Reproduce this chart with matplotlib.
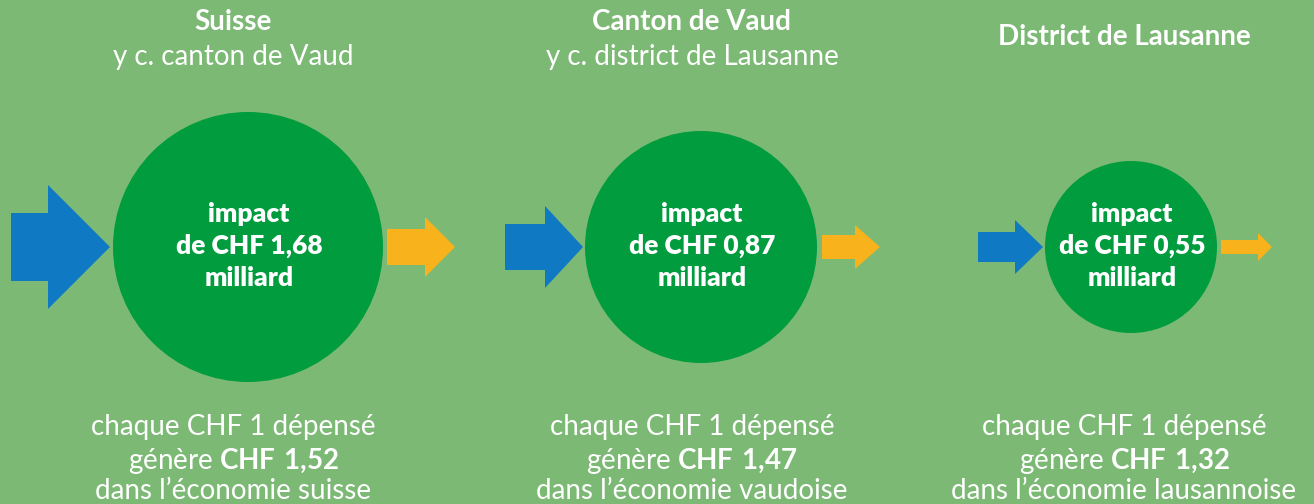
import matplotlib
matplotlib.use("Agg")
import matplotlib.pyplot as plt
from matplotlib.patches import Circle, Polygon

plt.rcParams['font.family'] = ['Lato', 'DejaVu Sans']
plt.rcParams['mathtext.fontset'] = 'custom'
plt.rcParams['mathtext.rm'] = 'Lato'
plt.rcParams['mathtext.bf'] = 'Lato:bold'

# data
regions = ['Suisse', 'Canton de Vaud', 'District de Lausanne']
subtitles = ['y c. canton de Vaud', 'y c. district de Lausanne', '']
impacts = ['1,68', '0,87', '0,55']
multipliers = ['1,52', '1,47', '1,32']
economies = ['suisse', 'vaudoise', 'lausannoise']

# layout (pixels)
W, H = 1314, 504
circle_x = [248, 701, 1131]
circle_r = [135, 116, 86]
text_x = [233, 692, 1124]
cy = 247
# arrows: x0, x_head, x1, body half height, head half height
blue = [(11, 48, 110, 34, 62), (505, 545, 583, 23, 41), (978, 1015, 1043, 15, 27)]
orange = [(387, 425, 455, 18, 30), (822, 855, 880, 12, 22), (1221, 1258, 1272, 7, 14)]

bg = '#7bb974'
green = '#009c3e'
c_blue = '#1079c3'
c_orange = '#f8b21c'

fig = plt.figure(figsize=(W / 100, H / 100), dpi=100)
fig.patch.set_facecolor(bg)
ax = fig.add_axes([0, 0, 1, 1])
ax.set_xlim(0, W)
ax.set_ylim(H, 0)
ax.set_aspect('equal')
ax.axis('off')


def arrow(spec, color):
    x0, xh, x1, b, h = spec
    pts = [(x0, cy - b), (xh, cy - b), (xh, cy - h), (x1, cy),
           (xh, cy + h), (xh, cy + b), (x0, cy + b)]
    ax.add_patch(Polygon(pts, closed=True, color=color, lw=0))


fs = 20
for i in range(3):
    ax.add_patch(Circle((circle_x[i], cy), circle_r[i], color=green, lw=0))
    arrow(blue[i], c_blue)
    arrow(orange[i], c_orange)

    for k, line in enumerate(['impact', 'de CHF ' + impacts[i], 'milliard']):
        ax.text(circle_x[i] + 1, 214 + 32 * k, line, ha='center', va='center',
                color='white', fontsize=19, fontweight='heavy')

    if subtitles[i]:
        ax.text(text_x[i], 22, regions[i], ha='center', va='center',
                color='white', fontsize=fs, fontweight='bold')
        ax.text(text_x[i], 57, subtitles[i], ha='center', va='center',
                color='white', fontsize=fs)
    else:
        ax.text(text_x[i], 37, regions[i], ha='center', va='center',
                color='white', fontsize=fs, fontweight='bold')

    ax.text(text_x[i], 427, 'chaque CHF 1 dépensé', ha='center', va='center',
            color='white', fontsize=fs)
    ax.text(text_x[i], 461, 'génère $\\bf{CHF\\ ' + multipliers[i].replace(',', '{,}') + '}$',
            ha='center', va='center', color='white', fontsize=fs)
    ax.text(text_x[i], 491, 'dans l’économie ' + economies[i], ha='center',
            va='center', color='white', fontsize=fs)

fig.savefig('out.png', dpi=100, facecolor=bg)
